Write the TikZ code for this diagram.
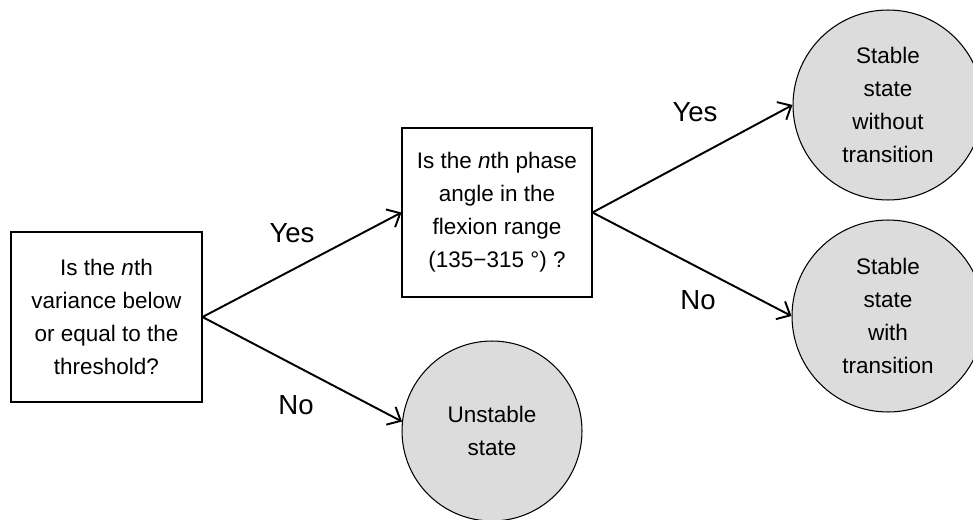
\documentclass[tikz,border=0pt]{standalone}
\usepackage{fontspec}
\setmainfont{Liberation Sans}
\usepackage{tikz}
\usetikzlibrary{arrows.meta}
\definecolor{stategrey}{RGB}{220,220,220}

\tikzset{
  question/.style={draw, line width=0.6pt, align=center, minimum width=3.82cm, minimum height=3.4cm,
    font=\fontsize{12.8}{18.8}\selectfont},
  outcome/.style={circle, draw, line width=0.6pt, fill=stategrey, align=center, inner sep=0pt,
    font=\fontsize{12.8}{18.8}\selectfont},
  branch/.style={line width=1.1pt, -{Straight Barb[length=2.2mm,width=4mm,line width=1.1pt]}},
  answer/.style={font=\fontsize{15.7}{18}\selectfont}
}

\begin{document}
\begin{tikzpicture}[x=0.02cm, y=-0.02cm]
\useasboundingbox (0,0) rectangle (973,520);
% questions
\node[question] (variance) at (106.5,317) {Is the \textit{n}th\\variance below\\or equal to the\\threshold?};
\node[question, minimum width=3.8cm, minimum height=3.38cm] (phase) at (497,212.5) {Is the \textit{n}th phase\\angle in the\\flexion range\\(135−315 °) ?};
% states
\node[outcome, minimum size=3.6cm] (unstable) at (492,431) {Unstable\\state};
\node[outcome, minimum size=3.8cm] (without) at (888,105) {Stable\\state\\without\\transition};
\node[outcome, minimum size=3.84cm] (with) at (888,316) {Stable\\state\\with\\transition};
% branches
\draw[branch] (variance.east) -- (phase.west);
\draw[branch] (variance.east) -- (unstable.174);
\draw[branch] (phase.east) -- (without.west);
\draw[branch] (phase.east) -- (with.west);
\node[answer] (yes1) at (292,233) {Yes};
\node[answer] (no1) at (296,405) {No};
\node[answer] (yes2) at (695,112) {Yes};
\node[answer] (no2) at (698,300) {No};
\end{tikzpicture}
\end{document}
